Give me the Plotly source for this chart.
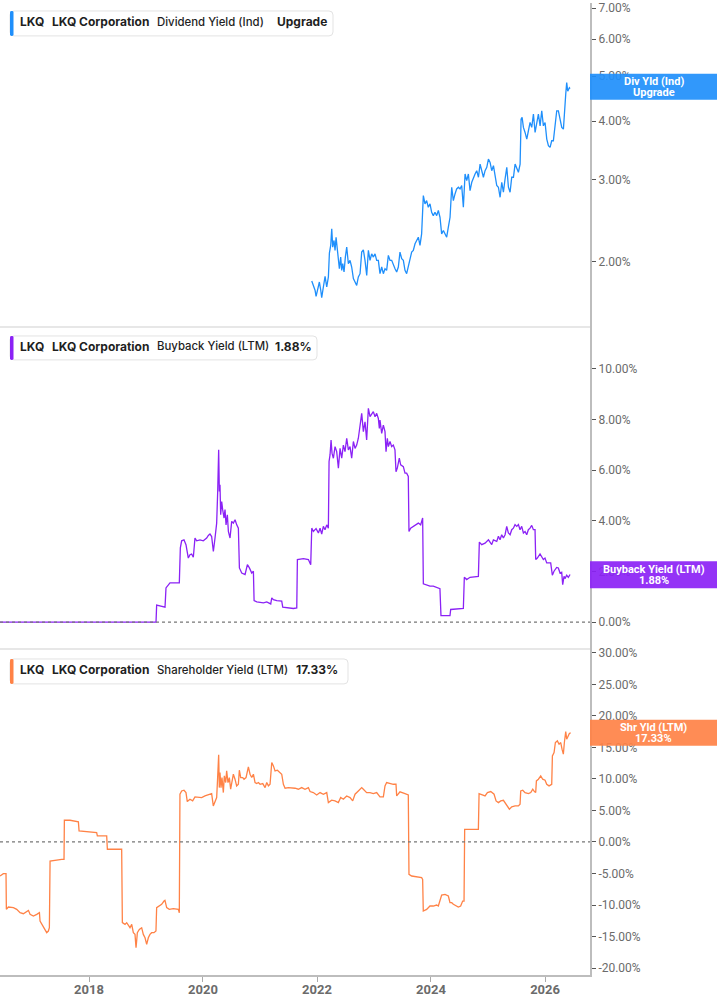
import pandas as pd
import plotly.graph_objects as go
from plotly.subplots import make_subplots

# ---------------- data (decimal years, values in %) ----------------
div_years = [2021.907, 2021.965, 2021.983, 2022.024, 2022.041, 2022.065, 2022.082, 2022.111, 2022.141, 2022.170,
             2022.199, 2022.217, 2022.240, 2022.258, 2022.275, 2022.298, 2022.316, 2022.334, 2022.357, 2022.374,
             2022.392, 2022.415, 2022.433, 2022.451, 2022.474, 2022.497, 2022.521, 2022.550, 2022.579, 2022.608,
             2022.638, 2022.667, 2022.696, 2022.725, 2022.755, 2022.784, 2022.813, 2022.842, 2022.872, 2022.901,
             2022.930, 2022.959, 2022.989, 2023.018, 2023.047, 2023.076, 2023.105, 2023.135, 2023.164, 2023.193,
             2023.222, 2023.252, 2023.281, 2023.310, 2023.339, 2023.369, 2023.398, 2023.427, 2023.456, 2023.486,
             2023.515, 2023.544, 2023.573, 2023.603, 2023.632, 2023.661, 2023.690, 2023.720, 2023.749, 2023.778,
             2023.807, 2023.836, 2023.866, 2023.895, 2023.924, 2023.953, 2023.983, 2024.012, 2024.041, 2024.070,
             2024.100, 2024.129, 2024.158, 2024.187, 2024.217, 2024.246, 2024.275, 2024.304, 2024.334, 2024.363,
             2024.392, 2024.421, 2024.450, 2024.480, 2024.509, 2024.538, 2024.567, 2024.597, 2024.626, 2024.655,
             2024.684, 2024.714, 2024.743, 2024.772, 2024.801, 2024.831, 2024.860, 2024.889, 2024.918, 2024.947,
             2024.977, 2025.006, 2025.035, 2025.064, 2025.094, 2025.123, 2025.152, 2025.181, 2025.211, 2025.240,
             2025.269, 2025.298, 2025.328, 2025.357, 2025.386, 2025.415, 2025.445, 2025.474, 2025.503, 2025.532,
             2025.562, 2025.579, 2025.597, 2025.620, 2025.649, 2025.679, 2025.708, 2025.737, 2025.766, 2025.796,
             2025.825, 2025.854, 2025.883, 2025.913, 2025.942, 2025.971, 2026.000, 2026.030, 2026.059, 2026.088,
             2026.117, 2026.146, 2026.176, 2026.205, 2026.234, 2026.263, 2026.293, 2026.322, 2026.339, 2026.363,
             2026.380, 2026.398, 2026.427, 2026.439]
div_values = [1.815, 1.734, 1.682, 1.762, 1.806, 1.734, 1.672, 1.762, 1.858, 1.762,
              1.852, 2.084, 2.164, 2.35, 2.146, 2.218, 2.112, 2.254, 2.112, 2.01,
              1.928, 2.043, 1.913, 1.977, 1.898, 2.043, 2.146, 1.977, 2.01, 1.945,
              1.837, 1.806, 1.776, 1.852, 1.882, 2.094, 2.118, 2.01, 1.866, 2.112,
              2.01, 2.076, 2.043, 2.076, 2.01, 2.01, 1.882, 1.945, 1.882, 1.928,
              1.913, 2.06, 2.01, 2.01, 1.961, 1.928, 1.898, 1.945, 2.094, 2.026,
              2.01, 1.913, 1.882, 1.961, 2.043, 2.094, 2.112, 2.182, 2.218, 2.254,
              2.164, 2.292, 2.77, 2.658, 2.702, 2.614, 2.658, 2.55, 2.508, 2.55,
              2.508, 2.572, 2.488, 2.292, 2.33, 2.292, 2.254, 2.369, 2.488, 2.886,
              2.702, 2.792, 2.862, 2.886, 2.862, 2.91, 2.614, 3.082, 2.982, 3.082,
              2.838, 2.958, 3.032, 3.082, 3.132, 3.032, 3.236, 3.108, 3.032, 3.132,
              3.184, 3.318, 3.264, 3.132, 3.21, 3.056, 2.91, 2.886, 2.746, 2.958,
              2.816, 3.006, 3.184, 2.886, 2.816, 3.032, 3.032, 3.236, 3.158, 3.108,
              3.236, 4.042, 4.076, 3.88, 3.784, 3.662, 3.816, 3.976, 3.88, 4.144,
              3.784, 4.008, 4.144, 3.91, 4.212, 3.91, 3.976, 3.662, 3.544, 3.514,
              3.632, 3.632, 3.88, 4.212, 4.212, 4.008, 3.88, 3.846, 4.212, 4.572,
              4.842, 4.64, 4.72, 4.70]

bb_years = [2016.439, 2019.176, 2019.187, 2019.334, 2019.351, 2019.421, 2019.585, 2019.603, 2019.626, 2019.667,
            2019.702, 2019.743, 2019.772, 2019.801, 2019.831, 2019.860, 2019.889, 2019.948, 2020.006, 2020.065,
            2020.094, 2020.123, 2020.152, 2020.182, 2020.211, 2020.240, 2020.258, 2020.275, 2020.287, 2020.298,
            2020.310, 2020.328, 2020.345, 2020.369, 2020.386, 2020.404, 2020.427, 2020.445, 2020.474, 2020.503,
            2020.532, 2020.562, 2020.591, 2020.620, 2020.638, 2020.679, 2020.737, 2020.778, 2020.813, 2020.854,
            2020.883, 2020.895, 2020.942, 2021.059, 2021.117, 2021.187, 2021.205, 2021.234, 2021.293, 2021.380,
            2021.398, 2021.468, 2021.585, 2021.644, 2021.655, 2021.761, 2021.848, 2021.889, 2021.907, 2021.936,
            2021.983, 2022.024, 2022.053, 2022.082, 2022.111, 2022.140, 2022.170, 2022.199, 2022.211, 2022.228,
            2022.246, 2022.263, 2022.287, 2022.316, 2022.345, 2022.375, 2022.404, 2022.433, 2022.462, 2022.491,
            2022.521, 2022.550, 2022.579, 2022.608, 2022.638, 2022.667, 2022.696, 2022.725, 2022.754, 2022.784,
            2022.813, 2022.842, 2022.871, 2022.901, 2022.930, 2022.959, 2022.988, 2023.018, 2023.047, 2023.076,
            2023.094, 2023.105, 2023.135, 2023.164, 2023.193, 2023.211, 2023.234, 2023.252, 2023.281, 2023.310,
            2023.339, 2023.368, 2023.386, 2023.409, 2023.444, 2023.468, 2023.515, 2023.544, 2023.573, 2023.602,
            2023.614, 2023.643, 2023.690, 2023.737, 2023.778, 2023.819, 2023.854, 2023.866, 2023.982, 2024.041,
            2024.099, 2024.157, 2024.175, 2024.333, 2024.345, 2024.567, 2024.584, 2024.625, 2024.684, 2024.830,
            2024.847, 2024.888, 2024.947, 2025.006, 2025.064, 2025.093, 2025.152, 2025.181, 2025.210, 2025.239,
            2025.269, 2025.298, 2025.327, 2025.356, 2025.386, 2025.415, 2025.444, 2025.473, 2025.503, 2025.532,
            2025.561, 2025.590, 2025.620, 2025.649, 2025.678, 2025.707, 2025.737, 2025.766, 2025.795, 2025.824,
            2025.836, 2025.865, 2025.912, 2025.941, 2025.970, 2025.999, 2026.029, 2026.058, 2026.099, 2026.128,
            2026.157, 2026.204, 2026.233, 2026.263, 2026.292, 2026.310, 2026.333, 2026.350, 2026.380, 2026.409,
            2026.439]
bb_values = [0.0, 0.0, 0.67, 0.59, 1.35, 1.55, 1.55, 2.93, 3.21, 3.25,
             3.06, 2.53, 2.66, 2.69, 2.56, 3.32, 3.21, 3.25, 3.21, 3.32,
             3.42, 3.48, 3.38, 2.79, 3.32, 3.91, 5.16, 6.80, 5.16, 5.42,
             4.24, 4.76, 4.44, 4.11, 4.44, 3.84, 4.24, 3.58, 3.32, 3.98,
             3.91, 4.04, 3.84, 3.71, 2.14, 1.94, 1.88, 2.27, 2.14, 1.94,
             2.01, 0.85, 0.80, 0.76, 0.80, 0.72, 0.96, 0.89, 0.85, 0.83,
             0.59, 0.56, 0.54, 0.56, 2.47, 2.51, 2.47, 2.27, 3.71, 3.58,
             3.69, 3.52, 3.71, 3.48, 3.78, 3.65, 3.84, 3.71, 6.34, 6.60,
             7.19, 6.67, 6.47, 6.93, 6.73, 6.08, 6.86, 6.47, 6.99, 6.73,
             7.26, 6.80, 6.93, 6.47, 7.13, 6.86, 6.99, 7.26, 7.78, 8.24,
             7.52, 7.91, 7.19, 8.44, 8.11, 8.24, 8.31, 8.11, 8.24, 8.04,
             7.65, 7.98, 7.45, 7.78, 7.52, 6.73, 7.26, 6.93, 7.13, 6.93,
             6.99, 6.80, 5.94, 6.08, 6.47, 6.21, 6.14, 5.88, 5.88, 5.75,
             3.58, 3.71, 3.78, 3.87, 3.91, 3.84, 4.11, 1.51, 1.42, 1.42,
             1.38, 1.32, 0.26, 0.26, 0.50, 0.54, 1.77, 1.68, 1.77, 1.81,
             3.16, 3.06, 3.12, 3.25, 3.06, 3.25, 3.19, 3.39, 3.25, 3.45,
             3.32, 3.45, 3.78, 3.52, 3.45, 3.65, 3.71, 3.85, 3.78, 3.85,
             3.65, 3.78, 3.52, 3.58, 3.45, 3.65, 3.71, 3.82, 3.65, 3.65,
             2.47, 2.53, 2.69, 2.60, 2.47, 2.53, 2.34, 2.34, 2.34, 1.85,
             2.01, 2.16, 2.14, 1.94, 1.97, 1.48, 1.81, 1.72, 1.85, 1.77,
             1.88]

sy_years = [2016.439, 2016.497, 2016.544, 2016.550, 2016.585, 2016.673, 2016.731, 2016.790, 2016.848, 2016.906,
            2016.936, 2016.965, 2017.023, 2017.082, 2017.129, 2017.140, 2017.170, 2017.228, 2017.257, 2017.286,
            2017.304, 2017.316, 2017.374, 2017.520, 2017.561, 2017.567, 2017.667, 2017.813, 2017.825, 2017.959,
            2018.134, 2018.146, 2018.310, 2018.322, 2018.573, 2018.585, 2018.632, 2018.661, 2018.690, 2018.719,
            2018.749, 2018.778, 2018.807, 2018.825, 2018.836, 2018.848, 2018.883, 2018.924, 2018.953, 2018.983,
            2019.012, 2019.041, 2019.070, 2019.099, 2019.140, 2019.175, 2019.187, 2019.234, 2019.275, 2019.316,
            2019.333, 2019.363, 2019.409, 2019.480, 2019.538, 2019.568, 2019.585, 2019.596, 2019.626, 2019.667,
            2019.702, 2019.725, 2019.772, 2019.819, 2019.860, 2019.918, 2019.977, 2020.035, 2020.093, 2020.152,
            2020.181, 2020.210, 2020.240, 2020.257, 2020.275, 2020.286, 2020.298, 2020.316, 2020.333, 2020.357,
            2020.374, 2020.398, 2020.415, 2020.438, 2020.462, 2020.485, 2020.509, 2020.532, 2020.561, 2020.590,
            2020.620, 2020.637, 2020.661, 2020.696, 2020.719, 2020.754, 2020.795, 2020.824, 2020.854, 2020.883,
            2020.912, 2020.941, 2020.971, 2021.000, 2021.047, 2021.088, 2021.117, 2021.146, 2021.175, 2021.205,
            2021.234, 2021.263, 2021.304, 2021.351, 2021.380, 2021.409, 2021.439, 2021.497, 2021.555, 2021.614,
            2021.672, 2021.731, 2021.789, 2021.848, 2021.877, 2021.935, 2021.994, 2022.053, 2022.111, 2022.170,
            2022.199, 2022.257, 2022.316, 2022.374, 2022.415, 2022.462, 2022.520, 2022.579, 2022.626, 2022.667,
            2022.725, 2022.784, 2022.813, 2022.871, 2022.930, 2022.988, 2023.047, 2023.105, 2023.164, 2023.193,
            2023.222, 2023.281, 2023.339, 2023.386, 2023.398, 2023.456, 2023.515, 2023.544, 2023.602, 2023.614,
            2023.661, 2023.749, 2023.836, 2023.854, 2023.865, 2023.924, 2023.982, 2024.041, 2024.099, 2024.129,
            2024.158, 2024.187, 2024.246, 2024.304, 2024.333, 2024.363, 2024.392, 2024.450, 2024.479, 2024.520,
            2024.555, 2024.579, 2024.590, 2024.655, 2024.743, 2024.830, 2024.842, 2024.889, 2024.947, 2024.988,
            2025.047, 2025.105, 2025.140, 2025.181, 2025.222, 2025.269, 2025.298, 2025.327, 2025.374, 2025.415,
            2025.474, 2025.532, 2025.561, 2025.573, 2025.608, 2025.649, 2025.708, 2025.749, 2025.784, 2025.813,
            2025.836, 2025.848, 2025.883, 2025.924, 2025.959, 2026.000, 2026.029, 2026.070, 2026.117, 2026.129,
            2026.158, 2026.181, 2026.216, 2026.246, 2026.275, 2026.298, 2026.321, 2026.339, 2026.363, 2026.380,
            2026.409, 2026.427, 2026.450]
sy_values = [-5.40, -5.03, -5.03, -10.69, -10.32, -10.42, -10.69, -11.22, -11.38, -10.95,
             -10.85, -11.48, -11.75, -11.48, -11.22, -12.54, -13.07, -13.86, -14.39, -14.13,
             -13.60, -3.02, -2.91, -2.75, -2.75, 3.44, 3.44, 3.18, 1.75, 1.59,
             1.48, 0.95, 0.95, -1.16, -1.16, -12.80, -13.07, -12.80, -13.33, -13.60,
             -13.07, -14.39, -14.66, -16.77, -15.71, -14.39, -13.86, -13.60, -14.66, -15.19,
             -16.25, -15.19, -14.66, -14.39, -14.39, -14.13, -10.42, -10.16, -9.89, -9.37,
             -9.26, -10.42, -10.69, -10.58, -10.69, -10.69, -11.22, 7.57, 8.09, 8.20,
             7.83, 6.40, 6.77, 6.51, 7.14, 7.04, 7.04, 7.30, 7.46, 7.67,
             5.71, 6.51, 7.04, 10.21, 13.81, 8.62, 11.01, 8.62, 10.21, 7.83,
             10.48, 9.42, 11.27, 9.42, 10.21, 8.36, 9.68, 10.74, 9.95, 8.89,
             9.15, 11.38, 10.21, 10.21, 9.95, 10.21, 11.91, 10.74, 10.21, 10.74,
             9.42, 9.26, 9.42, 9.15, 9.26, 8.62, 9.42, 8.89, 9.15, 12.59,
             12.06, 11.27, 11.38, 11.01, 10.74, 9.15, 8.52, 8.62, 8.62, 8.52,
             8.36, 8.62, 8.36, 8.62, 7.99, 7.83, 7.46, 7.83, 7.57, 7.83,
             6.24, 6.62, 6.51, 6.24, 7.04, 6.77, 7.30, 7.04, 6.51, 7.57,
             8.09, 8.62, 8.36, 7.83, 7.83, 7.67, 7.83, 7.14, 7.14, 8.89,
             9.42, 9.26, 9.15, 9.15, 7.30, 7.95, 7.83, 7.67, 7.46, -5.13,
             -5.40, -5.56, -5.66, -5.93, -10.95, -10.69, -10.16, -10.16, -10.00, -10.16,
             -9.37, -8.41, -8.31, -8.57, -9.63, -9.63, -9.89, -10.16, -10.32, -10.16,
             -9.37, -9.37, 2.01, 2.01, 2.01, 2.01, 7.67, 7.46, 7.30, 7.83,
             7.99, 7.57, 6.51, 6.24, 6.51, 6.61, 6.24, 5.71, 5.19, 5.56,
             5.71, 5.71, 5.98, 8.10, 8.20, 7.83, 7.67, 7.83, 8.36, 7.99,
             7.83, 9.68, 9.95, 10.48, 9.95, 9.79, 9.15, 8.89, 9.15, 13.65,
             14.18, 15.77, 16.03, 15.50, 15.77, 14.71, 13.92, 15.77, 17.51, 16.30,
             16.83, 17.20, 17.33]

x_range_years = [2016.4386, 2026.789]
div_ticks = [2, 3, 4, 5, 6, 7]
bb_ticks = [0, 2, 4, 6, 8, 10]
sy_ticks = [-20, -15, -10, -5, 0, 5, 10, 15, 20, 25, 30]


def to_date(y):
    yr = int(y)
    start = pd.Timestamp(year=yr, month=1, day=1)
    ndays = (pd.Timestamp(year=yr + 1, month=1, day=1) - start).days
    return start + pd.Timedelta(days=(y - yr) * ndays)


def dates(lst):
    return [to_date(v) for v in lst]


BLUE = "#1f8ffb"
PURPLE = "#8b22f5"
ORANGE = "#ff8246"

W, H = 717, 1005
ML, MR, MT, MB = 0, 127, 0, 30
PW, PH = W - ML - MR, H - MT - MB


def X(px):
    return (px - ML) / PW


def Y(py):
    return (H - MB - py) / PH


fig = make_subplots(rows=3, cols=1, shared_xaxes=True, vertical_spacing=0)
fig.add_trace(go.Scatter(x=dates(div_years), y=div_values, mode="lines",
                         line=dict(color=BLUE, width=1.3), hoverinfo="skip"), row=1, col=1)
fig.add_trace(go.Scatter(x=dates(bb_years), y=bb_values, mode="lines",
                         line=dict(color=PURPLE, width=1.3), hoverinfo="skip"), row=2, col=1)
fig.add_trace(go.Scatter(x=dates(sy_years), y=sy_values, mode="lines",
                         line=dict(color=ORANGE, width=1.3), hoverinfo="skip"), row=3, col=1)

tickfont = dict(family="Roboto", size=12, color="#6b6b6b")
yax_common = dict(side="right", showgrid=False, zeroline=False, showline=True,
                  linecolor="#bdbdbd", linewidth=2, ticks="outside", ticklen=4,
                  tickwidth=1, tickcolor="#555", tickfont=tickfont)

fig.update_layout(
    width=W, height=H, margin=dict(l=ML, r=MR, t=MT, b=MB),
    paper_bgcolor="white", plot_bgcolor="white", showlegend=False,
    yaxis=dict(yax_common, type="log", domain=[Y(325), 1.0],
               range=[0.1601, 0.8560], tickvals=div_ticks,
               ticktext=[f"{v:.2f}%" for v in div_ticks]),
    yaxis2=dict(yax_common, domain=[Y(648), Y(325)], range=[-1.06, 11.65],
                tickvals=bb_ticks, ticktext=[f"{v:.2f}%" for v in bb_ticks]),
    yaxis3=dict(yax_common, domain=[0, Y(648)], range=[-21.1, 30.6],
                tickvals=sy_ticks, ticktext=[f"{v:.2f}%" for v in sy_ticks]),
)
xr = [to_date(x_range_years[0]), to_date(x_range_years[1])]
for ax in ["xaxis", "xaxis2"]:
    fig.layout[ax].update(range=xr, showgrid=False, zeroline=False, showline=False,
                          showticklabels=False, ticks="")
fig.layout["xaxis3"].update(range=xr, showgrid=False, zeroline=False, showline=True,
                            linecolor="#bdbdbd", linewidth=2, ticks="outside", ticklen=5,
                            tickcolor="#aaa", tick0="2018-01-01", dtick="M24",
                            tickformat="%Y",
                            tickfont=dict(family="Roboto", size=13, color="#6b6b6b",
                                          weight="bold"))
try:
    fig.layout["xaxis3"].ticklabelstandoff = -4
except Exception:
    pass

shapes = []
# panel separators
for py in (325, 648):
    shapes.append(dict(type="line", xref="paper", yref="paper", x0=0, x1=1,
                       y0=Y(py), y1=Y(py), line=dict(color="#cfcfcf", width=1)))
# dotted zero lines
for yr_ in ("y2", "y3"):
    shapes.append(dict(type="line", xref="paper", yref=yr_, x0=0, x1=1, y0=0, y1=0,
                       line=dict(color="#777", width=1.2, dash="dot")))


def roundrect(px0, py0, px1, py1, r):
    x0, x1 = X(px0), X(px1)
    y0, y1 = Y(py0), Y(py1)  # y0 top, y1 bottom
    rx, ry = r / PW, r / PH
    return (f"M {x0+rx},{y0} L {x1-rx},{y0} Q {x1},{y0} {x1},{y0-ry} "
            f"L {x1},{y1+ry} Q {x1},{y1} {x1-rx},{y1} L {x0+rx},{y1} "
            f"Q {x0},{y1} {x0},{y1+ry} L {x0},{y0-ry} Q {x0},{y0} {x0+rx},{y0} Z")


legend_boxes = [
    (8, 33, 333, BLUE),
    (334, 358, 317, PURPLE),
    (658, 683, 348, ORANGE),
]
for (top, bot, right, col) in legend_boxes:
    shapes.append(dict(type="path", xref="paper", yref="paper",
                       path=roundrect(10, top, right, bot, 4),
                       fillcolor="white", line=dict(color="#e3e3e3", width=1), layer="above"))
    shapes.append(dict(type="path", xref="paper", yref="paper",
                       path=roundrect(10, top, 13.5, bot, 1.5),
                       fillcolor=col, line=dict(width=0), layer="above"))

badges = [
    (71, 97, BLUE),
    (560, 587, PURPLE),
    (719, 745, ORANGE),
]
for (top, bot, col) in badges:
    shapes.append(dict(type="rect", xref="paper", yref="paper",
                       x0=X(590), x1=X(717), y0=Y(bot), y1=Y(top),
                       fillcolor=col, opacity=0.92, line=dict(width=0), layer="above"))
fig.update_layout(shapes=shapes)

annots = []
LF = "Inter"


def txt(px, py, text, size=12, weight="bold", color="#1f1f1f", anchor="left", family=LF):
    annots.append(dict(xref="paper", yref="paper", x=X(px), y=Y(py), text=text,
                       showarrow=False, xanchor=anchor, yanchor="middle", borderpad=0,
                       font=dict(family=family, size=size, color=color, weight=weight)))


legend_rows = [
    (19, "Dividend Yield (Ind)", "Upgrade"),
    (344.5, "Buyback Yield (LTM)", f"{bb_values[-1]:.2f}%"),
    (669, "Shareholder Yield (LTM)", f"{sy_values[-1]:.2f}%"),
]
seg_x = [(19, 51, 156, 276), (19, 51, 156, 274), (19, 51, 156, 295)]
for (cy, metric, val), xs in zip(legend_rows, seg_x):
    txt(xs[0], cy, "LKQ")
    txt(xs[1], cy, "LKQ Corporation")
    txt(xs[2], cy, metric, size=11.4, weight=500)
    txt(xs[3], cy, val)

badge_txt = [
    (78.5, 89.5, "Div Yld (Ind)", "Upgrade"),
    (568.3, 579, "Buyback Yield (LTM)", f"{bb_values[-1]:.2f}%"),
    (726.7, 737.7, "Shr Yld (LTM)", f"{sy_values[-1]:.2f}%"),
]
for (y1, y2, l1, l2) in badge_txt:
    txt(653.5, y1, l1, size=11, color="white", anchor="center", family="Roboto")
    txt(653.5, y2, l2, size=11, color="white", anchor="center", family="Roboto")

fig.update_layout(annotations=annots)
fig.write_html("out.html")
